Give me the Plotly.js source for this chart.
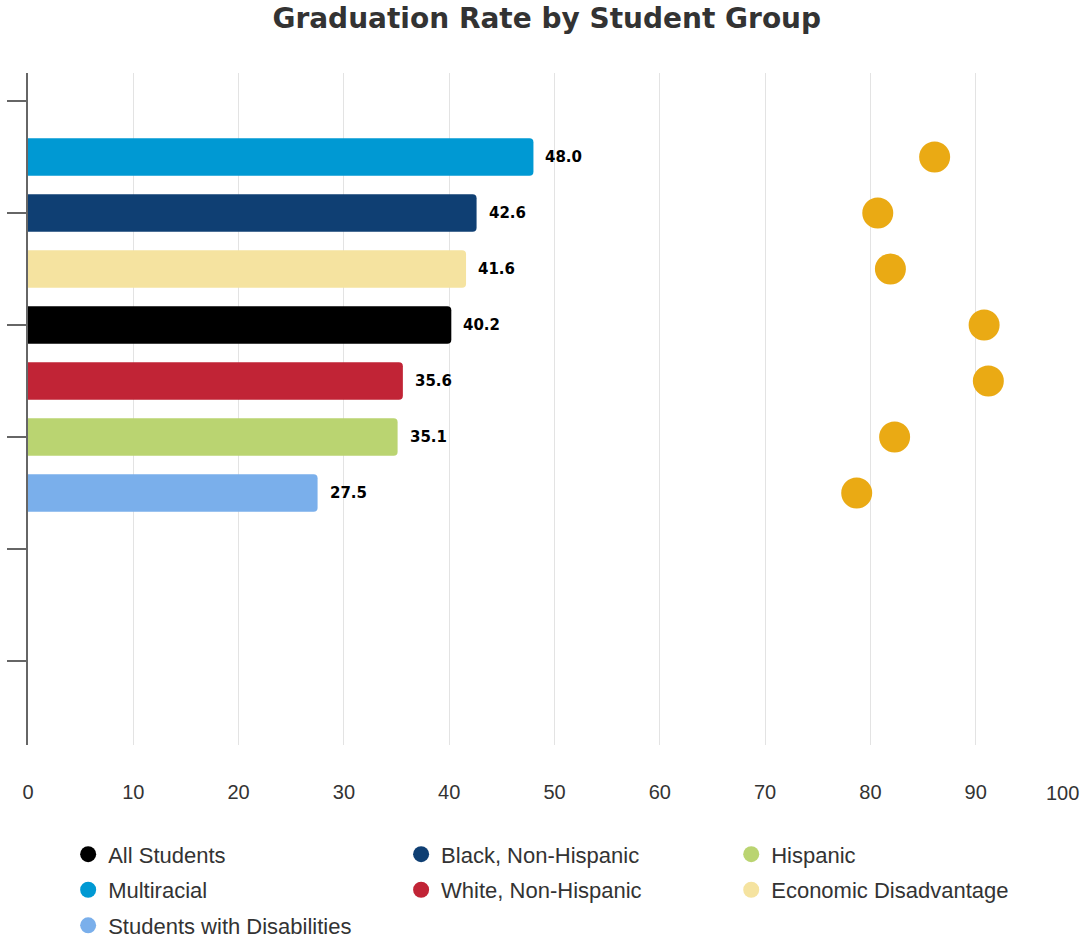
<!DOCTYPE html>
<html>
<head>
<meta charset="utf-8">
<script src="https://cdn.plot.ly/plotly-3.0.1.min.js"></script>
<style>html,body{margin:0;padding:0;background:#fff;}#chart{width:1087px;height:939px;}</style>
</head>
<body>
<div id="chart"></div>
<script>
// ---- data (top to bottom) ----
var groups = ['Multiracial','Black, Non-Hispanic','Economic Disadvantage','All Students','White, Non-Hispanic','Hispanic','Students with Disabilities'];
var rates = [48.0, 42.6, 41.6, 40.2, 35.6, 35.1, 27.5];
var dotValues = [86.1, 80.7, 81.9, 90.8, 91.2, 82.3, 78.7];
var groupColors = ['#0099D3','#0F3F73','#F5E3A0','#000000','#C12436','#BAD471','#7AAFEB'];
var legendOrder = ['All Students','Black, Non-Hispanic','Hispanic','Multiracial','White, Non-Hispanic','Economic Disadvantage','Students with Disabilities'];
var xTickValues = [0,10,20,30,40,50,60,70,80,90,100];
var xTickLabels = ['0','10','20','30','40','50','60','70','80','90','100'];

var pos = groups.map(function(g,i){return i;});

var traces = [];
traces.push({
  type:'bar', orientation:'h', x:rates, y:pos, width:0.67,
  marker:{color:groupColors, line:{width:0}}, showlegend:false, hoverinfo:'x'
});
traces.push({
  type:'scatter', mode:'markers', x:dotValues, y:pos,
  marker:{color:'#EAAA14', size:31, line:{width:0}}, showlegend:false, hoverinfo:'x'
});
var legendNames = ['legend','legend2','legend3'];
legendOrder.forEach(function(name,i){
  var idx = groups.indexOf(name);
  traces.push({
    type:'scatter', mode:'markers', x:[null], y:[null], name:name,
    marker:{color:groupColors[idx], size:18, symbol:'circle'},
    legend:legendNames[i%3], legendgroup:'g'+i, showlegend:true
  });
});

var annotations = rates.map(function(v,i){
  return {x:v, y:pos[i], xref:'x', yref:'y', text:v.toFixed(1), showarrow:false,
    xanchor:'left', yanchor:'middle', xshift:10,
    font:{family:'DejaVu Sans', size:15, color:'#000', weight:'bold'}};
});
// last x tick label kept inside the chart (right-justified)
annotations.push({x:xTickValues[xTickValues.length-1], y:0, xref:'x', yref:'paper',
  text:xTickLabels[xTickLabels.length-1], showarrow:false, xanchor:'right', yanchor:'top', yshift:-35,
  font:{family:'Liberation Sans, Arial', size:20, color:'#333'}});

var tt = xTickLabels.slice(); tt[tt.length-1] = '';

function legendCfg(xc){
  return {x:xc, xref:'container', y:0.1125, yref:'container', xanchor:'left', yanchor:'top',
    orientation:'v', tracegroupgap:4, bgcolor:'rgba(0,0,0,0)',
    font:{family:'Liberation Sans, Arial', size:22, color:'#333'}};
}

var layout = {
  width:1087, height:939,
  margin:{l:28, r:6, t:73, b:194, autoexpand:false},
  paper_bgcolor:'#fff', plot_bgcolor:'#fff',
  title:{text:'Graduation Rate by Student Group', x:0.503, xref:'container', xanchor:'center',
    y:0.991, yref:'container', yanchor:'top',
    font:{family:'DejaVu Sans', size:28, color:'#333', weight:'bold'}},
  xaxis:{range:[0,100], tickmode:'array', tickvals:xTickValues, ticktext:tt,
    showgrid:true, gridcolor:'#e3e3e3', gridwidth:1, zeroline:false, showline:false,
    ticks:'', ticklabelstandoff:33, fixedrange:true, automargin:false,
    tickfont:{family:'Liberation Sans, Arial', size:20, color:'#333'}},
  yaxis:{range:[10.5,-1.5], tickmode:'array', tickvals:[-1,1,3,5,7,9], showticklabels:false,
    ticks:'outside', ticklen:19, tickwidth:2, tickcolor:'#666', automargin:false,
    showline:true, linecolor:'#666', linewidth:2, showgrid:false, zeroline:false, fixedrange:true},
  barcornerradius:4,
  showlegend:true,
  legend:legendCfg(0.0627),
  legend2:legendCfg(0.369),
  legend3:legendCfg(0.6727),
  annotations:annotations
};

Plotly.newPlot('chart', traces, layout, {displayModeBar:false, staticPlot:true});
</script>
</body>
</html>
